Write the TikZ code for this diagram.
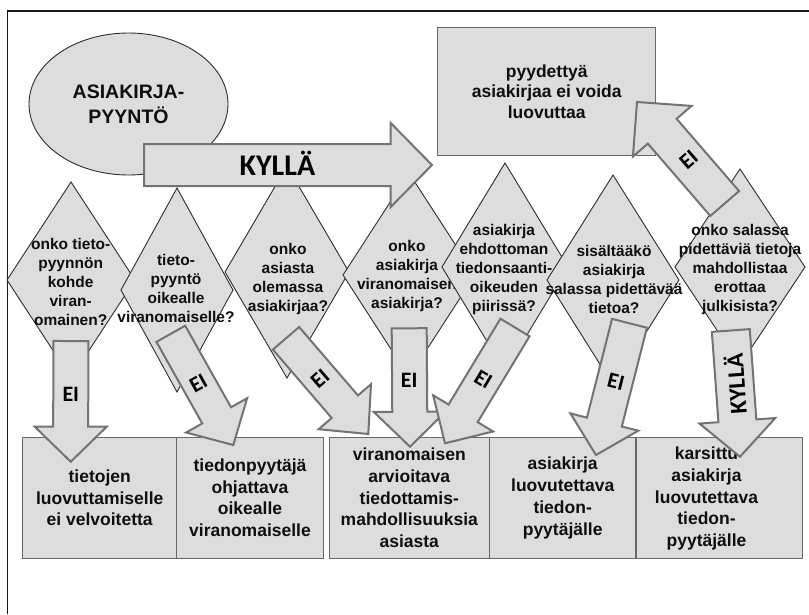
\documentclass[tikz,border=0pt]{standalone}
\usepackage{fontspec}
\setmainfont{Liberation Sans}
\newfontfamily\calfont{Carlito}
\usetikzlibrary{calc,shapes.geometric}
\definecolor{fillg}{RGB}{221,221,221}
\definecolor{arrg}{RGB}{115,115,115}
\definecolor{boxg}{RGB}{105,105,105}
\definecolor{lineg}{RGB}{45,45,45}
\definecolor{txt}{RGB}{15,15,15}
\newcommand\blockarr[5]{%
  \coordinate (hb) at ($(#2)!#5!(#1)$);
  \draw[arr] ($(#1)!#3!90:(#2)$) -- ($(hb)!#3!90:(#2)$) -- ($(hb)!#4!90:(#2)$) -- (#2)
    -- ($(hb)!#4!-90:(#2)$) -- ($(hb)!#3!-90:(#2)$) -- ($(#1)!#3!-90:(#2)$) -- cycle;}
\newcommand\dmd[5]{%
  \coordinate (#1) at (#2,#3);
  \draw[diam] (#2,{#3-#5}) -- ({#2+#4},#3) -- (#2,{#3+#5}) -- ({#2-#4},#3) -- cycle;}
\begin{document}
\begin{tikzpicture}[x=1pt,y=-1pt,
  diam/.style={fill=fillg, draw=lineg, line width=0.9pt, line join=miter},
  dtext/.style={align=center, font=\fontsize{15.5}{19}\selectfont\bfseries, text=txt, inner sep=0pt},
  btext/.style={align=center, font=\fontsize{17.5}{21.8}\selectfont\bfseries, text=txt, inner sep=0pt},
  boxs/.style={fill=fillg, draw=boxg, line width=1.3pt, minimum height=121pt},
  arr/.style={fill=fillg, draw=arrg, line width=2pt, line join=miter},
  atext/.style={font=\calfont\fontsize{22}{24}\selectfont\bfseries, text=black, inner sep=0pt},
  frame/.style={draw=black!90, line width=1.4pt}
]
\useasboundingbox (0,0) rectangle (809,614);
\draw[frame] (7.3,614) -- (7.3,11) -- (809,11);

% start ellipse
\node[ellipse, draw=lineg, line width=0.9pt, fill=fillg, minimum width=199pt, minimum height=142pt,
  inner sep=0pt, align=center, font=\fontsize{19.5}{25}\selectfont\bfseries, text=txt] (req) at (128.5,104) {ASIAKIRJA-\\PYYNTÖ};

% top box
\node[boxs, minimum width=218pt, minimum height=128pt, btext, font=\fontsize{17.5}{20.6}\selectfont\bfseries] (nogo) at (546.7,91.7) {pyydettyä\\asiakirjaa ei voida\\luovuttaa};

% diamonds
\dmd{d1}{71}{280}{64}{98}
\node[dtext] (t1) at (70.7,282) {onko tieto-\\pyynnön\\kohde\\viran-\\omainen?};
\dmd{d2}{177}{290}{56}{102}
\node[dtext] (t2) at (176,288) {tieto-\\pyyntö\\oikealle\\viranomaiselle?};
\dmd{d3}{287}{272}{62}{106}
\node[dtext] (t3) at (288,278.5) {onko\\asiasta\\olemassa\\asiakirjaa?};
\dmd{d4}{409}{275}{66}{102}
\node[dtext] (t4) at (407,275.5) {onko\\asiakirja\\viranomaisen\\asiakirja?};
\dmd{d5}{505}{267}{63}{104}
\node[dtext] (t5) at (504,269.5) {asiakirja\\ehdottoman\\tiedonsaanti-\\oikeuden\\piirissä?};
\dmd{d6}{613}{280}{66}{105}
\node[dtext] (t6) at (614,279) {sisältääkö\\asiakirja\\salassa pidettävää\\tietoa?};
\dmd{d7}{740}{267}{65}{98}
\node[dtext] (t7) at (740,269.5) {onko salassa\\pidettäviä tietoja\\mahdollistaa\\erottaa\\julkisista?};

% bottom boxes
\node[boxs, minimum width=154pt, btext] (b1) at (99.7,497.8) {tietojen\\luovuttamiselle\\ei velvoitetta};
\node[boxs, minimum width=146.6pt, btext] (b2) at (250,497.8) {tiedonpyytäjä\\ohjattava\\oikealle\\viranomaiselle};
\node[boxs, minimum width=160pt, btext] (b3) at (409.3,497.8) {viranomaisen\\arvioitava\\tiedottamis-\\mahdollisuuksia\\asiasta};
\node[boxs, minimum width=146.7pt, btext] (b4) at (562.7,497.8) {asiakirja\\luovutettava\\tiedon-\\pyytäjälle};
\node[boxs, minimum width=166.3pt] (b5) at (719.2,497.8) {};
\node[btext] (b5t) at (706.5,498.5) {karsittu\\asiakirja\\luovutettava\\tiedon-\\pyytäjälle};

% arrows
\coordinate (k0) at (144,165); \coordinate (k1) at (432,165);
\blockarr{k0}{k1}{21pt}{42pt}{41.3pt}
\node[atext, font=\calfont\fontsize{30}{32}\selectfont\bfseries, anchor=base] (kyl) at (277.5,175.7) {KYLLÄ};

\coordinate (a1s) at (70.8,341); \coordinate (a1e) at (70.7,461.7);
\blockarr{a1s}{a1e}{17.5pt}{36pt}{35pt}
\node[atext] (e1) at (70.8,394) {EI};

\coordinate (a2s) at (170.8,333.8); \coordinate (a2e) at (233.3,445);
\blockarr{a2s}{a2e}{16.5pt}{35pt}{34pt}
\node[atext, rotate=29] (e2) at (198.3,383) {EI};

\coordinate (a3s) at (286,338.3); \coordinate (a3e) at (368.3,434);
\blockarr{a3s}{a3e}{17.3pt}{34.5pt}{36pt}
\node[atext, rotate=41] (e3) at (320,379) {EI};

\coordinate (a4s) at (409.2,328.3); \coordinate (a4e) at (410,446.7);
\blockarr{a4s}{a4e}{17.5pt}{36pt}{35pt}
\node[atext] (e4) at (409.2,380.3) {EI};

\coordinate (a5s) at (515,327.5); \coordinate (a5e) at (445,443.3);
\blockarr{a5s}{a5e}{17pt}{35pt}{35pt}
\node[atext, rotate=-31] (e5) at (483.3,379.2) {EI};

\coordinate (a6s) at (629.5,323.3); \coordinate (a6e) at (596,455);
\blockarr{a6s}{a6e}{18pt}{35pt}{34pt}
\node[atext, rotate=-14] (e6) at (616,381.7) {EI};

\coordinate (a7s) at (730.8,330.5); \coordinate (a7e) at (740,456.7);
\blockarr{a7s}{a7e}{19pt}{38pt}{36pt}
\node[atext, font=\calfont\fontsize{24}{26}\selectfont\bfseries, rotate=94] (kyl2) at (735,384.2) {KYLLÄ};

\coordinate (a8s) at (724.7,203.5); \coordinate (a8e) at (637,102);
\blockarr{a8s}{a8e}{19pt}{38.7pt}{38.6pt}
\node[atext, rotate=41] (e8) at (688.7,160) {EI};
\end{tikzpicture}
\end{document}
